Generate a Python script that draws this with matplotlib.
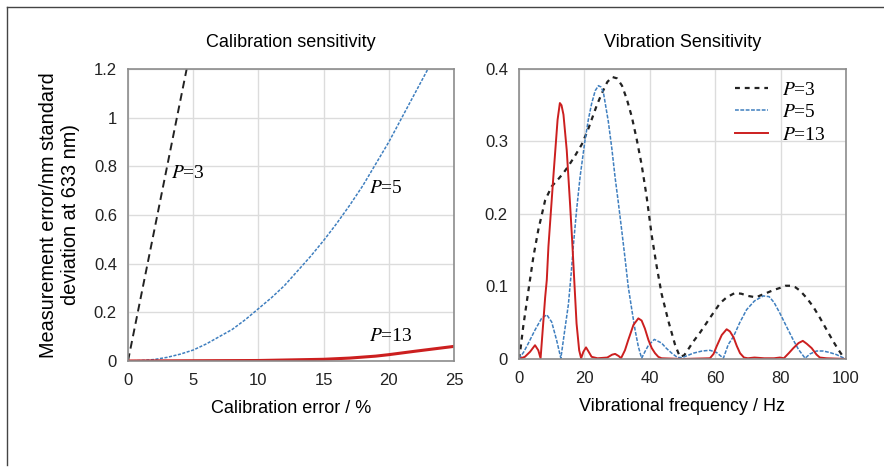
import matplotlib
matplotlib.use("Agg")
import matplotlib.pyplot as plt
from matplotlib.lines import Line2D

plt.rcParams['font.family'] = ['Liberation Sans', 'DejaVu Sans']
plt.rcParams['mathtext.fontset'] = 'stix'

# left panel: calibration sensitivity
cal_x3 = [0, 1, 2, 3, 4, 4.6]
cal_y3 = [0, 0.267, 0.533, 0.8, 1.067, 1.227]
cal_x5 = [0, 1, 2, 3, 4, 5, 6, 7, 8, 9, 10, 11, 12, 13, 14, 15, 16, 17, 18, 19,
          20, 21, 22, 23, 23.3]
cal_y5 = [0, 0.002, 0.006, 0.015, 0.028, 0.045, 0.07, 0.1, 0.13, 0.17, 0.215,
          0.26, 0.31, 0.37, 0.43, 0.495, 0.565, 0.64, 0.72, 0.81, 0.9, 1.0, 1.1,
          1.2, 1.23]
cal_x13 = [0, 5, 10, 12, 15, 17, 19, 20, 22, 25]
cal_y13 = [0, 0.001, 0.002, 0.004, 0.007, 0.012, 0.02, 0.026, 0.04, 0.06]

# right panel: vibration sensitivity
vib_x3 = [0, 0.3, 1.3, 2.9, 4.4, 5.9, 8.0, 10.0, 12.0, 13.5, 15.1, 17.1,
          19.2, 21, 22.2, 23.8, 25.3, 27, 28.5, 30, 31.5, 33, 34.5, 36, 37.5, 39,
          40.6, 42.1, 43.6, 45.7, 47.7, 49.2, 50.5, 52, 53.3, 55.3, 57.4, 59.5,
          61.5, 63.5, 66, 68, 70, 72.5, 74, 75.7, 77.8, 79.8, 81.5, 83, 84.5, 86,
          88, 90, 92, 94, 96, 97.5, 99, 100]
vib_y3 = [0, 0.008, 0.045, 0.095, 0.141, 0.178, 0.219, 0.238, 0.248, 0.256,
          0.266, 0.28, 0.296, 0.315, 0.330, 0.35, 0.366, 0.382, 0.389, 0.387,
          0.377, 0.358, 0.334, 0.303, 0.268, 0.225, 0.17, 0.128, 0.09, 0.052,
          0.02, 0.003, 0.005, 0.015, 0.024, 0.036, 0.05, 0.064, 0.077, 0.085,
          0.091, 0.090, 0.087, 0.085, 0.088, 0.091, 0.095, 0.098, 0.101, 0.101,
          0.099, 0.094, 0.084, 0.072, 0.057, 0.041, 0.025, 0.014, 0.004, 0.0]
vib_x5 = [0, 1.5, 2.9, 4.9, 6.9, 8.5, 10, 11.5, 12.8, 14, 15.1, 16.0, 16.6,
          17.6, 18.7, 20.2, 21.2, 22.2, 23.3, 24.3, 25.1, 25.8, 27.3, 28.4, 29.4,
          30.4, 31.4, 32.4, 33.4, 34.5, 35.5, 36.5, 37.5, 38.5, 39.6, 41.4, 43.6,
          45, 46.7, 48.5, 50, 53.3, 56, 58.4, 60.4, 62.5, 64, 65.6, 67.5, 69.6,
          72, 74.7, 76.5, 78, 79.8, 82, 83.9, 85.5, 87.5, 89, 91, 93, 95, 97.1,
          99, 100]
vib_y5 = [0, 0.01, 0.022, 0.04, 0.056, 0.061, 0.051, 0.026, 0.001, 0.04,
          0.075, 0.12, 0.155, 0.205, 0.252, 0.302, 0.33, 0.352, 0.37, 0.377,
          0.375, 0.368, 0.328, 0.29, 0.25, 0.215, 0.178, 0.14, 0.1, 0.068, 0.04,
          0.017, 0.001, 0.01, 0.019, 0.027, 0.022, 0.015, 0.008, 0.002, 0.002,
          0.008, 0.011, 0.012, 0.009, 0.001, 0.02, 0.031, 0.05, 0.068, 0.08,
          0.087, 0.086, 0.078, 0.063, 0.043, 0.026, 0.013, 0.001, 0.007, 0.011,
          0.011, 0.009, 0.006, 0.002, 0.0]
vib_x13 = [0, 1.8, 3.4, 4.9, 5.9, 6.6, 7.0, 7.4, 8.0, 8.5, 9.0, 10.5, 11.8, 12.5,
           13.0, 13.6, 14.6, 15.6, 16.3, 17.0, 17.6, 18.4, 19.0, 19.7, 20.5, 21.3,
           22.2, 24, 27, 28.5, 29.4, 30.5, 31.2, 32.4, 33.4, 35, 36.5, 37.5, 38.5,
           39.6, 40.6, 41.6, 42.6, 43.6, 50, 58.4, 59.5, 60.4, 62, 63.5, 64.5,
           65.6, 66.6, 67.6, 68.8, 70, 72, 75, 78, 79.8, 81, 82.5, 83.9, 85.5,
           86.8, 88, 89.5, 91, 92.0, 94, 100]
vib_y13 = [0, 0.003, 0.01, 0.019, 0.012, 0.001, 0.025, 0.049, 0.085, 0.109, 0.155,
           0.251, 0.330, 0.353, 0.35, 0.337, 0.288, 0.215, 0.16, 0.1, 0.049,
           0.012, 0.001, 0.01, 0.016, 0.01, 0.003, 0.001, 0.002, 0.006, 0.007,
           0.004, 0.001, 0.012, 0.026, 0.047, 0.056, 0.053, 0.042, 0.026, 0.015,
           0.008, 0.003, 0.001, 0.0, 0.001, 0.007, 0.017, 0.033, 0.041, 0.038,
           0.03, 0.018, 0.008, 0.002, 0.001, 0.002, 0.001, 0.001, 0.002, 0.001,
           0.008, 0.015, 0.022, 0.025, 0.021, 0.015, 0.006, 0.002, 0.001, 0.0]

labels = [r'$P$=3', r'$P$=5', r'$P$=13']
blue = '#3f7fbf'
red = '#cc1f1f'
serif = ['Liberation Serif', 'DejaVu Serif']

fig = plt.figure(figsize=(8.84, 4.67), dpi=100)
ax1 = fig.add_axes([0.1448, 0.2270, 0.3688, 0.6253])
ax2 = fig.add_axes([0.5871, 0.2313, 0.3699, 0.6210])

for ax in (ax1, ax2):
    ax.grid(True, color='#dcdcdc', lw=1)
    ax.set_axisbelow(True)
    for s in ax.spines.values():
        s.set_color('#8c8c8c')
        s.set_linewidth(1.2)
    ax.tick_params(length=0, labelsize=12, colors='#222222')
    ax.tick_params(axis='x', pad=9)
    ax.tick_params(axis='y', pad=8)

# left
ax1.plot(cal_x3, cal_y3, color='#222222', lw=1.4, dashes=(4, 2.5))
ax1.plot(cal_x5, cal_y5, color=blue, lw=1.1, dashes=(2, 1))
ax1.plot(cal_x13, cal_y13, color=red, lw=2.2)
ax1.set_xlim(0, 25)
ax1.set_ylim(0, 1.2)
ax1.set_xticks([0, 5, 10, 15, 20, 25])
ax1.set_yticks([0, 0.2, 0.4, 0.6, 0.8, 1.0, 1.2])
ax1.set_yticklabels(['0', '0.2', '0.4', '0.6', '0.8', '1', '1.2'])
ax1.set_title('Calibration sensitivity', fontsize=13, pad=16)
ax1.set_xlabel('Calibration error / %', fontsize=13, labelpad=8)
ax1.set_ylabel('Measurement error/nm standard\ndeviation at 633 nm)', fontsize=14.3,
               labelpad=10)
ax1.text(3.3, 0.77, labels[0], family=serif, fontsize=14, va='center')
ax1.text(18.5, 0.71, labels[1], family=serif, fontsize=14, va='center')
ax1.text(18.5, 0.10, labels[2], family=serif, fontsize=14, va='center')

# right
ax2.plot(vib_x3, vib_y3, color='#222222', lw=1.6, dashes=(2.2, 2.2), label=labels[0])
ax2.plot(vib_x5, vib_y5, color=blue, lw=1.1, dashes=(2.5, 1), label=labels[1])
ax2.plot(vib_x13, vib_y13, color=red, lw=1.4, label=labels[2])
ax2.set_xlim(0, 100)
ax2.set_ylim(0, 0.4)
ax2.set_xticks([0, 20, 40, 60, 80, 100])
ax2.set_yticks([0, 0.1, 0.2, 0.3, 0.4])
ax2.set_yticklabels(['0', '0.1', '0.2', '0.3', '0.4'])
ax2.set_title('Vibration Sensitivity', fontsize=13, pad=16)
ax2.set_xlabel('Vibrational frequency / Hz', fontsize=13, labelpad=8)
ax2.legend(loc='upper left', bbox_to_anchor=(0.66, 0.958), frameon=False,
           prop={'family': serif, 'size': 14}, handlelength=1.7,
           handletextpad=0.75, labelspacing=0.25, borderpad=0, borderaxespad=0)

# border of the original frame
fig.add_artist(Line2D([7 / 884, 1], [1 - 7 / 467, 1 - 7 / 467], color='#444444', lw=1))
fig.add_artist(Line2D([7 / 884, 7 / 884], [1 - 7 / 467, 2 / 467], color='#444444', lw=1))

fig.savefig('out.png', dpi=100)
